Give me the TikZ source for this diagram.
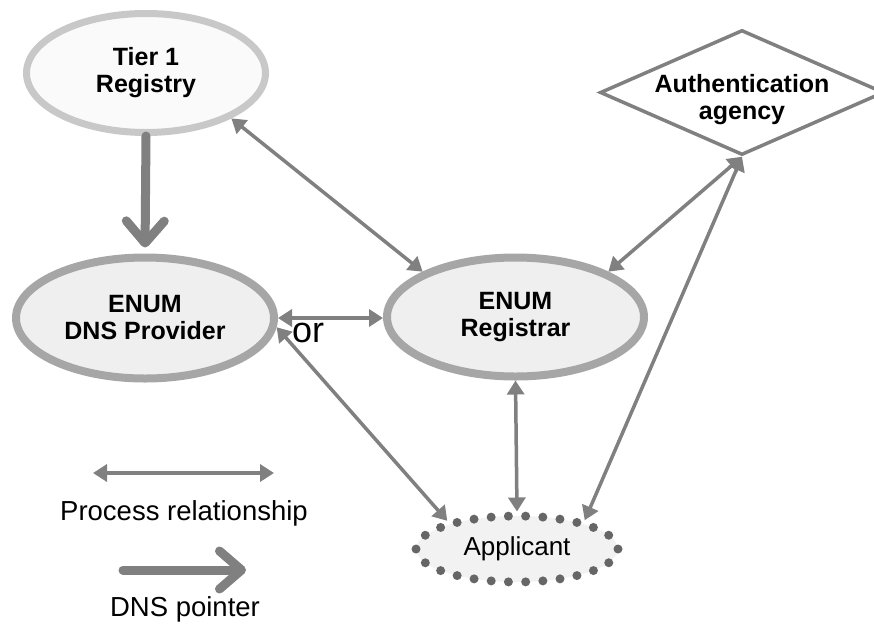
\documentclass[tikz,border=0pt]{standalone}
\usepackage{fontspec}
\setmainfont{Liberation Sans}
\usetikzlibrary{arrows.meta,shapes.geometric}
\definecolor{arr}{HTML}{808080}
\definecolor{tierb}{HTML}{C8C8C8}
\definecolor{tierf}{HTML}{FAFAFA}
\definecolor{enumb}{HTML}{A6A6A6}
\definecolor{enumf}{HTML}{EFEFEF}
\definecolor{dotc}{HTML}{666666}
\definecolor{appf}{HTML}{F2F2F2}
\begin{document}
\begin{tikzpicture}[x=1pt,y=-1pt,
  boldtxt/.style={font=\fontsize{25}{27}\selectfont\bfseries, align=center},
  regtxt/.style={font=\fontsize{27.5}{29}\selectfont},
  ell/.style={ellipse, inner sep=0pt},
  enumnode/.style={ell, draw=enumb, fill=enumf, line width=8pt, boldtxt},
  proc/.style={draw=arr, line width=3.5pt, {Triangle[length=14pt,width=17pt]}-{Triangle[length=14pt,width=17pt]}},
  dnsptr/.style={draw=arr, line width=9pt, line cap=round, -{Straight Barb[length=22pt,width=38pt,round]}},
]
\useasboundingbox (0,0) rectangle (874,624);

% nodes
\node[ell, draw=tierb, fill=tierf, line width=7pt, minimum width=239pt, minimum height=119pt, boldtxt] (tier) at (146,73) {Tier 1\\Registry};
\node[enumnode, minimum width=258pt, minimum height=121pt] (dns) at (145,318) {ENUM\\DNS Provider};
\node[enumnode, minimum width=257pt, minimum height=119pt] (reg) at (515.5,317) {ENUM\\Registrar};
\node[diamond, draw=arr, fill=white, line width=3.5pt, minimum width=284pt, minimum height=125pt, inner sep=0pt] (auth) at (742,92.5) {};
\node[boldtxt] (authtxt) at (742,100) {Authentication\\agency};
\node[ell, draw=dotc, fill=appf, line width=9pt, line cap=round, dash pattern=on 0pt off 17.25pt, minimum width=202pt, minimum height=66pt, font=\fontsize{26}{28}\selectfont] (app) at (517,549) {Applicant};
\node[font=\fontsize{36}{38}\selectfont, anchor=base] (ortxt) at (308,342) {or};

% DNS pointer
\draw[dnsptr, shorten >=6pt] (tier.south) -- (dns.north);

% process relationships
\draw[proc] (tier.-28) -- (reg.154);
\draw[proc] (reg.26) -- (auth.south);
\draw[proc] (app.23) -- (auth.south);
\draw[proc] (reg.south) -- (app.north);
\draw[proc] (dns.east) -- (dns.east -| reg.west);
\draw[proc] (dns.-4) -- (app.158);

% legend
\coordinate (l1a) at (93,473);
\coordinate (l1b) at (274,473);
\draw[proc] (l1a) -- (l1b);
\node[regtxt, anchor=base] (l1t) at (184,520) {Process relationship};
\coordinate (l2a) at (123,570);
\coordinate (l2b) at (246,570);
\draw[dnsptr] (l2a) -- (l2b);
\node[regtxt, anchor=base] (l2t) at (185,616) {DNS pointer};
\end{tikzpicture}
\end{document}
